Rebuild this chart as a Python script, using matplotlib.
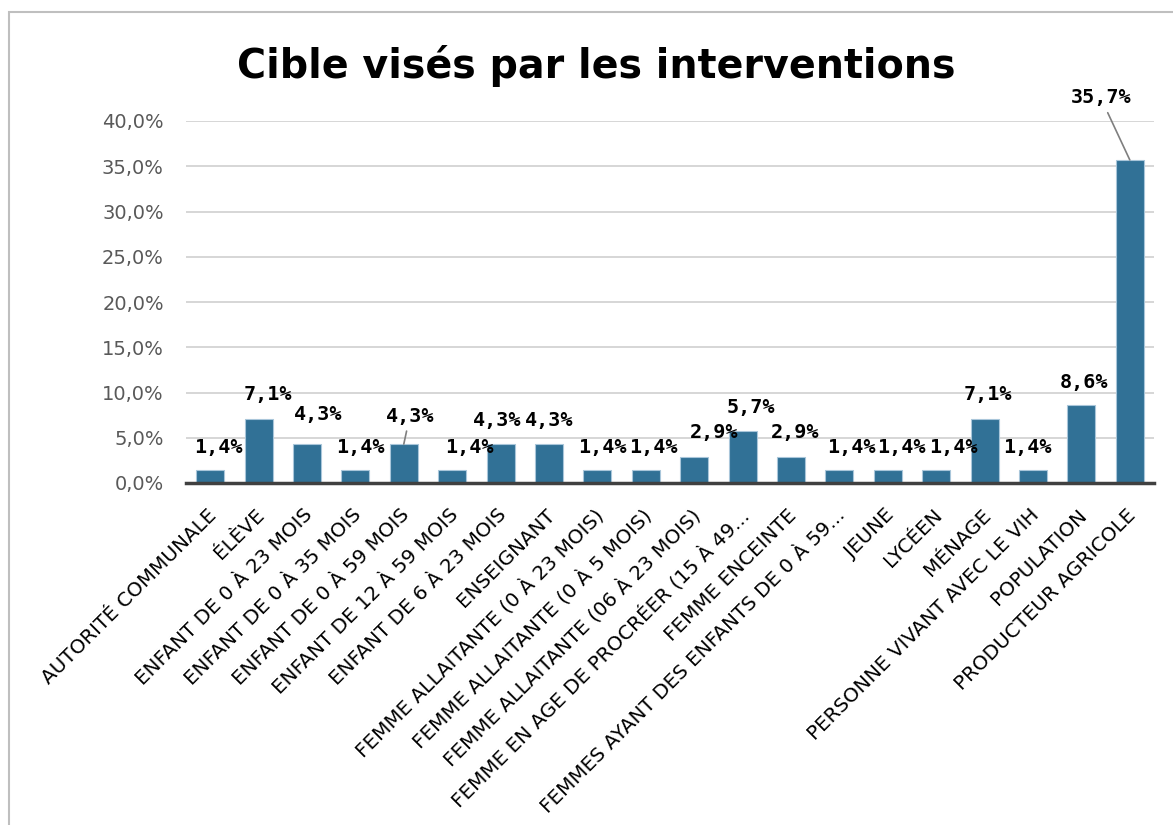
import matplotlib
matplotlib.use("Agg")
import matplotlib.pyplot as plt
import matplotlib.transforms as mtransforms
from matplotlib.patches import Rectangle
import numpy as np

# données du graphique
categories = [
    "AUTORITÉ COMMUNALE", "ÉLÈVE", "ENFANT DE 0 À 23 MOIS", "ENFANT DE 0 À 35 MOIS",
    "ENFANT DE 0 À 59 MOIS", "ENFANT DE 12 À 59 MOIS", "ENFANT DE 6 À 23 MOIS",
    "ENSEIGNANT", "FEMME ALLAITANTE (0 À 23 MOIS)", "FEMME ALLAITANTE (0 À 5 MOIS)",
    "FEMME ALLAITANTE (06 À 23 MOIS)", "FEMME EN AGE DE PROCRÉER (15 À 49...",
    "FEMME ENCEINTE", "FEMMES AYANT DES ENFANTS DE 0 À 59...", "JEUNE", "LYCÉEN",
    "MÉNAGE", "PERSONNE VIVANT AVEC LE VIH", "POPULATION", "PRODUCTEUR AGRICOLE",
]
values = [1.4, 7.1, 4.3, 1.4, 4.3, 1.4, 4.3, 4.3, 1.4, 1.4,
          2.9, 5.7, 2.9, 1.4, 1.4, 1.4, 7.1, 1.4, 8.6, 35.7]
yticks = [0, 5, 10, 15, 20, 25, 30, 35, 40]

# placement des étiquettes (pixels, comme Excel les a posées)
label_dx = [8, 9, 11, 5, 6, 17, -3, 0, 5, 8, 20, 8, 4, 12, 14, 17, 3, -6, 3, -29]
label_dy = [23, 24, 30, 23, 28, 23, 24, 24, 23, 23, 24, 24, 24, 23, 23, 23, 24, 23, 23, 62]
leader = [4, 19]

W, H = 1173, 825
fig = plt.figure(figsize=(W / 100, H / 100), dpi=100)
ax = fig.add_axes([186 / W, 1 - 483 / H, (1154 - 186) / W, (483 - 121) / H])

x = np.arange(len(categories))
ax.bar(x, values, width=0.58, color="#317196", edgecolor="#a9c6da", linewidth=0.8, zorder=3)

ax.set_xlim(-0.5, len(categories) - 0.5)
ax.set_ylim(0, 40)
ax.set_yticks(yticks)
ax.set_yticklabels([f"{v:.1f}%".replace(".", ",") for v in yticks],
                   fontsize=14, color="#595959")
ax.grid(axis="y", color="#cfcfcf", linewidth=1.2, zorder=0)
ax.set_axisbelow(True)
for s in ["top", "right", "left"]:
    ax.spines[s].set_visible(False)
ax.spines["bottom"].set_color("#404040")
ax.spines["bottom"].set_linewidth(2.5)
ax.spines["bottom"].set_zorder(4)
ax.tick_params(axis="y", length=0, pad=16)
ax.tick_params(axis="x", length=0, pad=21)

ax.set_xticks(x)
ax.set_xticklabels(categories, rotation=45, ha="right", va="center",
                   rotation_mode="anchor", fontsize=14.3, color="black")
shift = mtransforms.ScaledTranslation(3 / 100, 0, fig.dpi_scale_trans)
for lab in ax.get_xticklabels():
    lab.set_transform(lab.get_transform() + shift)

for i, v in enumerate(values):
    txt = f"{v:.1f}%".replace(".", ",")
    kw = {}
    if i in leader:
        kw["arrowprops"] = dict(arrowstyle="-", color="#7f7f7f", lw=1.2,
                                shrinkA=2, shrinkB=0)
    ax.annotate(txt, xy=(i, v), xytext=(label_dx[i], label_dy[i]),
                textcoords="offset pixels", ha="center", va="center",
                fontsize=14.5, fontweight="bold", family="DejaVu Sans Mono",
                annotation_clip=False, zorder=5, **kw)

fig.text(596 / W, 1 - 78 / H, "Cible visés par les interventions",
         ha="center", va="baseline", fontsize=28.5, fontweight="bold")

# cadre de la zone de graphique
fig.add_artist(Rectangle((9 / W, -0.1), 1.1, 1.1 - 12 / H, transform=fig.transFigure,
                         fill=False, edgecolor="#bfbfbf", linewidth=1.5))

fig.savefig("out.png", dpi=100)
